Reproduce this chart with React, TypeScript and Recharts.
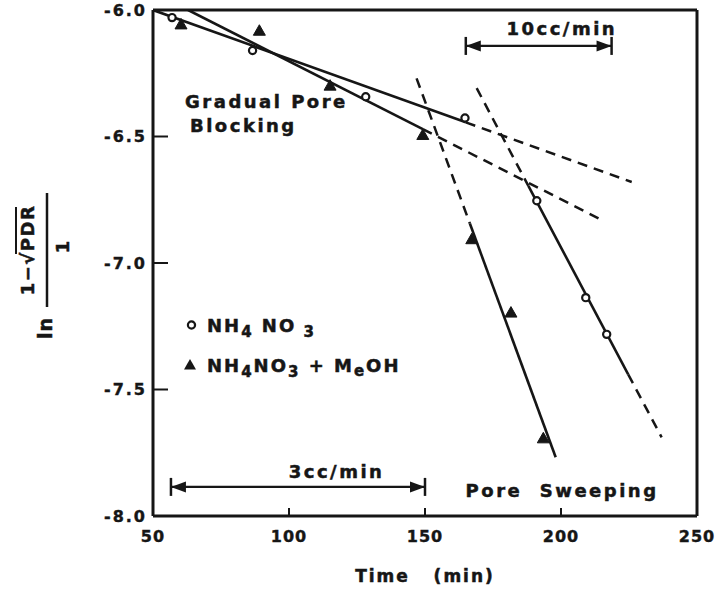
import React from 'react';
import { ComposedChart, Line, Scatter, XAxis, YAxis, ReferenceLine, Legend } from 'recharts';

const FONT = '"DejaVu Sans", "Liberation Sans", sans-serif';
const INK = '#161616';

const xTicks = [50, 100, 150, 200, 250];
const yTicks = [-8.0, -7.5, -7.0, -6.5, -6.0];

// measured points
const nh4no3Points = [
  { x: 57, y: -6.03 },
  { x: 86.6, y: -6.16 },
  { x: 128.2, y: -6.343 },
  { x: 164.7, y: -6.427 },
  { x: 191.1, y: -6.754 },
  { x: 209.1, y: -7.137 },
  { x: 216.8, y: -7.282 },
];
const meohPoints = [
  { x: 60.3, y: -6.057 },
  { x: 89.1, y: -6.082 },
  { x: 115.1, y: -6.299 },
  { x: 149.2, y: -6.494 },
  { x: 167.2, y: -6.906 },
  { x: 181.6, y: -7.196 },
  { x: 193.5, y: -7.693 },
];

// fitted lines (solid / dashed extrapolations)
const nh4BlockSolid = [{ x: 50, y: -6.0 }, { x: 165, y: -6.444 }];
const nh4BlockDash = [{ x: 165, y: -6.444 }, { x: 226, y: -6.68 }];
const meohBlockSolid = [{ x: 62.9, y: -6.0 }, { x: 149.2, y: -6.471 }];
const meohBlockDash = [{ x: 149.2, y: -6.471 }, { x: 215, y: -6.83 }];
const meohSweepDash = [{ x: 146.9, y: -6.27 }, { x: 166.5, y: -6.844 }];
const meohSweepSolid = [{ x: 166.5, y: -6.844 }, { x: 198.05, y: -7.768 }];
const nh4SweepDashTop = [{ x: 169, y: -6.309 }, { x: 188, y: -6.695 }];
const nh4SweepSolid = [{ x: 188, y: -6.695 }, { x: 224.7, y: -7.44 }];
const nh4SweepDashBottom = [{ x: 224.7, y: -7.44 }, { x: 237, y: -7.689 }];

// flow-rate dimension arrows
const arrow3Shaft = [{ x: 56.6, y: -7.885 }, { x: 150, y: -7.885 }];
const arrow10Shaft = [{ x: 165, y: -6.142 }, { x: 218.6, y: -6.142 }];
const arrowEnds = [
  { x: 56.6, y: -7.885, dir: 'left' },
  { x: 150, y: -7.885, dir: 'right' },
  { x: 165, y: -6.142, dir: 'left' },
  { x: 218.6, y: -6.142, dir: 'right' },
];

// text annotations (anchor points in data units)
const annotations = [
  { x: 61.8, y: -6.387, text: 'Gradual Pore', anchor: 'start' },
  { x: 63.6, y: -6.482, text: 'Blocking', anchor: 'start' },
  { x: 117.5, y: -7.85, text: '3cc/min', anchor: 'middle' },
  { x: 200.3, y: -6.099, text: '10cc/min', anchor: 'middle' },
  { x: 200.4, y: -7.925, text: 'Pore  Sweeping', anchor: 'middle' },
];

const OpenCircle = (props: any) => {
  const { cx, cy } = props;
  if (cx == null || cy == null) return null;
  return <circle cx={cx} cy={cy} r={3.6} fill="#fff" stroke={INK} strokeWidth={2.2} />;
};

const FilledTriangle = (props: any) => {
  const { cx, cy } = props;
  if (cx == null || cy == null) return null;
  return (
    <polygon
      points={`${cx},${cy - 6} ${cx - 6},${cy + 4.5} ${cx + 6},${cy + 4.5}`}
      fill={INK}
      stroke={INK}
      strokeWidth={1}
    />
  );
};

const ArrowEnd = (props: any) => {
  const { cx, cy, payload } = props;
  if (cx == null || cy == null) return null;
  const s = payload.dir === 'left' ? 1 : -1;
  return (
    <g>
      <line x1={cx} y1={cy - 9} x2={cx} y2={cy + 9} stroke={INK} strokeWidth={2.5} />
      <polygon points={`${cx},${cy} ${cx + s * 15},${cy - 5.5} ${cx + s * 15},${cy + 5.5}`} fill={INK} />
    </g>
  );
};

const AnnotationText = (props: any) => {
  const { cx, cy, payload } = props;
  if (cx == null || cy == null) return null;
  return (
    <text
      x={cx}
      y={cy}
      textAnchor={payload.anchor}
      fontFamily={FONT}
      fontWeight="bold"
      fontSize={18}
      letterSpacing={2.5}
      fill={INK}
      stroke={INK}
      strokeWidth={0.5}
      style={{ whiteSpace: 'pre' }}
    >
      {payload.text}
    </text>
  );
};

const YLabel = (props: any) => {
  const vb = props.viewBox || { x: 73, y: 10 };
  const cx = vb.x - 28;
  const cy = vb.y + 240;
  const common = { fontFamily: FONT, fontWeight: 'bold' as const, fill: INK, stroke: INK, strokeWidth: 0.5 };
  return (
    <g transform={`translate(${cx},${cy}) rotate(-90)`}>
      <text x={-78} y={7} textAnchor="middle" fontSize={19} letterSpacing={1} {...common}>ln</text>
      <line x1={-57} y1={2} x2={57} y2={2} stroke={INK} strokeWidth={2.5} />
      <text x={0} y={-11} textAnchor="middle" fontSize={18} letterSpacing={1.5} {...common}>
        1−√PDR
      </text>
      <line x1={-4} y1={-29} x2={43} y2={-29} stroke={INK} strokeWidth={2} />
      <text x={3} y={24} textAnchor="middle" fontSize={18} {...common}>1</text>
    </g>
  );
};

const XLabel = (props: any) => {
  const vb = props.viewBox || { x: 153, y: 516, width: 544 };
  return (
    <text
      x={vb.x + vb.width / 2}
      y={vb.y + 66}
      textAnchor="middle"
      fontFamily={FONT}
      fontWeight="bold"
      fontSize={17}
      letterSpacing={2}
      fill={INK}
      stroke={INK}
      strokeWidth={0.5}
      style={{ whiteSpace: 'pre' }}
    >
      {'Time   (min)'}
    </text>
  );
};

const legendItems = [
  { key: 'nh4', marker: 'circle', y: 325 },
  { key: 'meoh', marker: 'triangle', y: 365 },
];

const renderLegend = () => {
  const t = { fontFamily: FONT, fontWeight: 'bold' as const, fill: INK, stroke: INK, strokeWidth: 0.5, fontSize: 18, letterSpacing: 2 };
  return (
    <svg width={715} height={589} style={{ position: 'absolute', left: 0, top: 0, overflow: 'visible' }}>
      {legendItems.map((it) =>
        it.marker === 'circle' ? (
          <g key={it.key}>
            <circle cx={191.5} cy={it.y} r={3.6} fill="#fff" stroke={INK} strokeWidth={2.2} />
            <text x={207} y={it.y + 7} {...t} style={{ whiteSpace: 'pre' }}>
              NH<tspan fontSize={15} dy={5}>4</tspan>
              <tspan dy={-5}>{' NO'}</tspan>
              <tspan fontSize={15} dy={5}>{' 3'}</tspan>
            </text>
          </g>
        ) : (
          <g key={it.key}>
            <polygon points={`190,${it.y - 6} 184,${it.y + 4.5} 196,${it.y + 4.5}`} fill={INK} />
            <text x={207} y={it.y + 7} {...t}>
              NH<tspan fontSize={15} dy={5}>4</tspan>
              <tspan dy={-5}>NO</tspan>
              <tspan fontSize={15} dy={5}>3</tspan>
              <tspan dy={-5}> + M</tspan>
              <tspan fontSize={15} dy={4}>e</tspan>
              <tspan dy={-4}>OH</tspan>
            </text>
          </g>
        )
      )}
    </svg>
  );
};

const solid = { stroke: INK, strokeWidth: 2.6, dot: false, isAnimationActive: false, legendType: 'none' as const };
const dashed = { ...solid, strokeWidth: 2.5, strokeDasharray: '10 7' };

const tickStyle = { fontFamily: FONT, fontWeight: 'bold', fontSize: 16, fill: INK, stroke: INK, strokeWidth: 0.4 };

export default function App() {
  return (
    <div style={{ position: 'absolute', left: 0, top: 0, width: 715, height: 589, background: '#fff' }}>
      <ComposedChart width={715} height={589} margin={{ top: 10, right: 18, bottom: 33, left: 73 }}>
        <XAxis
          type="number"
          dataKey="x"
          domain={[50, 250]}
          ticks={xTicks}
          allowDataOverflow
          height={40}
          axisLine={{ stroke: INK, strokeWidth: 3 }}
          tickLine={{ stroke: INK, strokeWidth: 2 }}
          tickSize={-8}
          tickMargin={23}
          tick={{ ...tickStyle, letterSpacing: 1 }}
          label={{ content: XLabel }}
        />
        <YAxis
          type="number"
          dataKey="y"
          domain={[-8, -6]}
          ticks={yTicks}
          allowDataOverflow
          width={80}
          axisLine={{ stroke: INK, strokeWidth: 3 }}
          tickLine={{ stroke: INK, strokeWidth: 2 }}
          tickSize={-15}
          tickMargin={21}
          tickFormatter={(v: number) => v.toFixed(1)}
          tick={{ ...tickStyle, letterSpacing: 2 }}
          label={{ content: YLabel }}
        />
        <ReferenceLine y={-6} stroke={INK} strokeWidth={3} />
        <ReferenceLine x={250} stroke={INK} strokeWidth={3} />

        <Line data={nh4BlockSolid} dataKey="y" {...solid} />
        <Line data={nh4BlockDash} dataKey="y" {...dashed} />
        <Line data={meohBlockSolid} dataKey="y" {...solid} />
        <Line data={meohBlockDash} dataKey="y" {...dashed} />
        <Line data={meohSweepDash} dataKey="y" {...dashed} />
        <Line data={meohSweepSolid} dataKey="y" {...solid} />
        <Line data={nh4SweepDashTop} dataKey="y" {...dashed} />
        <Line data={nh4SweepSolid} dataKey="y" {...solid} />
        <Line data={nh4SweepDashBottom} dataKey="y" {...dashed} />

        <Line data={arrow3Shaft} dataKey="y" {...solid} strokeWidth={2.2} />
        <Line data={arrow10Shaft} dataKey="y" {...solid} strokeWidth={2.2} />
        <Scatter data={arrowEnds} shape={ArrowEnd} isAnimationActive={false} legendType="none" />

        <Scatter name="NH4NO3" data={nh4no3Points} shape={OpenCircle} isAnimationActive={false} />
        <Scatter name="NH4NO3 + MeOH" data={meohPoints} shape={FilledTriangle} isAnimationActive={false} />

        <Scatter data={annotations} shape={AnnotationText} isAnimationActive={false} legendType="none" />

        <Legend
          content={renderLegend}
          layout="horizontal"
          verticalAlign="middle"
          align="center"
          wrapperStyle={{ position: 'absolute', left: 0, top: 0, width: 715, height: 589, pointerEvents: 'none' }}
        />
      </ComposedChart>
    </div>
  );
}
